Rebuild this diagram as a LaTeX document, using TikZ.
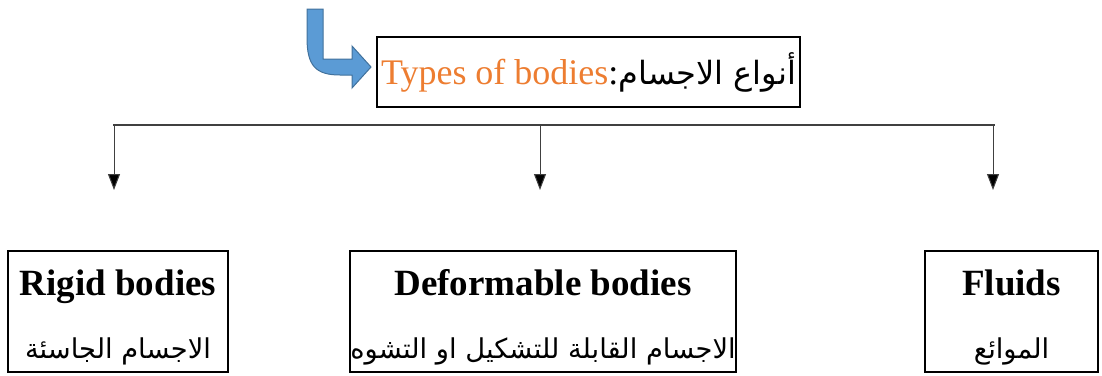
\documentclass[tikz,border=0pt]{standalone}
\usepackage{fontspec}
\setmainfont{Liberation Serif}
\newfontfamily\arabicfont[Script=Arabic]{DejaVu Sans}
\TeXXeTstate=1
\usetikzlibrary{arrows.meta}
\definecolor{bodyorange}{HTML}{ED7D31}
\definecolor{arrowblue}{HTML}{5B9BD5}
\definecolor{arrowedge}{HTML}{41719C}
\definecolor{linegray}{HTML}{404040}
\tikzset{
  box/.style={draw, line width=1.5pt, inner sep=0pt, align=center,
    font=\fontsize{37}{42}\selectfont},
  branch/.style={-{Triangle[width=12pt,length=16pt,fill=black]}, line width=1pt, draw=linegray},
}
\newcommand{\arabicline}[1]{{\arabicfont\fontsize{27.3}{33}\selectfont\beginR #1\endR}}
\begin{document}
\begin{tikzpicture}[x=1pt,y=-1pt]
\useasboundingbox (0,0) rectangle (1102,375);
\node[box, minimum width=423pt, minimum height=70pt, font=\fontsize{36}{40}\selectfont](types) at (588.5,72) {\textcolor{bodyorange}{Types of bodies}:{\arabicfont\fontsize{32}{36}\selectfont\beginR أنواع الاجسام\endR}};
%
\fill[arrowblue, draw=arrowedge, line width=1pt] (307,9) -- (323,9) -- (323,59) -- (352,59) -- (352,46) -- (371,67) -- (352,88) -- (352,75) -- (340,75) .. controls (316,75) and (307,66) .. (307,38) -- cycle;
%
\coordinate(busleft) at (113,125);
\coordinate(busright) at (995,125);
\draw[linegray, line width=2pt](busleft) -- (busright);
%
\coordinate(rigidtop) at (114,125);
\coordinate(rigidtip) at (114,190);
\draw[branch](rigidtop) -- (rigidtip);
%
\coordinate(deftop) at (540,125);
\coordinate(deftip) at (540,190);
\draw[branch](deftop) -- (deftip);
%
\coordinate(fluidtop) at (993,125);
\coordinate(fluidtip) at (993,190);
\draw[branch](fluidtop) -- (fluidtip);
%
\node[box, minimum width=220pt, minimum height=121pt](rigid) at (118,311.5) {\rule{0pt}{37pt}\textbf{Rigid bodies}\\[21pt]\arabicline{الاجسام الجاسئة}};
\node[box, minimum width=386pt, minimum height=121pt](deform) at (543,311.5) {\rule{0pt}{37pt}\textbf{Deformable bodies}\\[21pt]\arabicline{الاجسام القابلة للتشكيل او التشوه}};
\node[box, minimum width=173pt, minimum height=121pt](fluids) at (1011.5,311.5) {\rule{0pt}{37pt}\textbf{Fluids}\\[21pt]\arabicline{الموائع}};
\end{tikzpicture}
\end{document}
